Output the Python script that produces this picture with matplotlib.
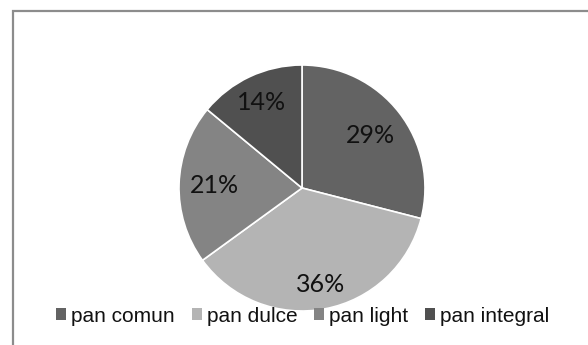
import numpy as np
import matplotlib.pyplot as plt
from matplotlib.patches import Rectangle

# Chart data
labels = ['pan comun', 'pan dulce', 'pan light', 'pan integral']
shares = [29, 36, 21, 14]
colors = ['#636363', '#b4b4b4', '#848484', '#505050']
label_dist = [0.70, 0.80, 0.71, 0.77]  # Excel "best fit" label placement

W, H = 588, 345
fig = plt.figure(figsize=(W / 100, H / 100), dpi=100)
fig.patch.set_facecolor('white')

# Outer chart frame (right/bottom edges run off the image)
fig.add_artist(Rectangle((12.5 / W, -0.1), 1.2, 1.1 - 10.5 / H,
                         transform=fig.transFigure, fill=False,
                         edgecolor='#8c8c8c', linewidth=1.6))

# Pie: centre at (302, 188) px, radius 123 px
r = 123
cx, cy = 302, 188
ax = fig.add_axes([(cx - r) / W, (H - cy - r) / H, 2 * r / W, 2 * r / H])
wedges, texts, autotexts = ax.pie(
    shares, colors=colors, startangle=90, counterclock=False,
    autopct='%1.0f%%', pctdistance=0.76, radius=1.0,
    wedgeprops=dict(edgecolor='white', linewidth=1.2),
    textprops=dict(fontsize=18, family='Lato', color='#111111'))
for w, t, d in zip(wedges, autotexts, label_dist):
    mid = np.deg2rad((w.theta1 + w.theta2) / 2)
    t.set_position((d * np.cos(mid), d * np.sin(mid)))
ax.set_xlim(-1, 1)
ax.set_ylim(-1, 1)
ax.set_aspect('equal')

# Legend along the bottom
leg = fig.legend(wedges, labels, loc='center', bbox_to_anchor=(303 / W, 1 - 316 / H),
                 ncol=4, frameon=False, handlelength=0.48, handleheight=0.48,
                 handletextpad=0.25, columnspacing=0.8, borderaxespad=0,
                 prop=dict(family='Liberation Sans', size=15))
for t in leg.get_texts():
    t.set_color('#111111')
for h in leg.legend_handles:
    h.set_edgecolor('none')

fig.savefig('out.png', dpi=100)
